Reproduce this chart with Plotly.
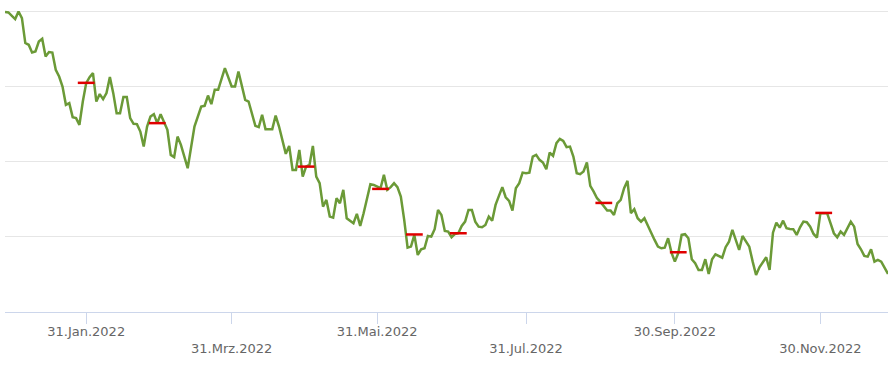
import plotly.graph_objects as go

# Trading-day closing values
dates = [
    "2021-12-28", "2021-12-29", "2021-12-31",
    "2022-01-03", "2022-01-04", "2022-01-05", "2022-01-06", "2022-01-07",
    "2022-01-10", "2022-01-11", "2022-01-12", "2022-01-13", "2022-01-14",
    "2022-01-17", "2022-01-18", "2022-01-19", "2022-01-20", "2022-01-21",
    "2022-01-24", "2022-01-25", "2022-01-26", "2022-01-27", "2022-01-28",
    "2022-01-31", "2022-02-01", "2022-02-02", "2022-02-03", "2022-02-04",
    "2022-02-07", "2022-02-08", "2022-02-09", "2022-02-10", "2022-02-11",
    "2022-02-14", "2022-02-15", "2022-02-16", "2022-02-17", "2022-02-18",
    "2022-02-21", "2022-02-22", "2022-02-23", "2022-02-24", "2022-02-25",
    "2022-02-28", "2022-03-01", "2022-03-02", "2022-03-04",
    "2022-03-07", "2022-03-08", "2022-03-09", "2022-03-10",
    "2022-03-14", "2022-03-16", "2022-03-18",
    "2022-03-21", "2022-03-22", "2022-03-23", "2022-03-24", "2022-03-25",
    "2022-03-29", "2022-03-31", "2022-04-01",
    "2022-04-04", "2022-04-06", "2022-04-07",
    "2022-04-11", "2022-04-12", "2022-04-13", "2022-04-14",
    "2022-04-18", "2022-04-19", "2022-04-20", "2022-04-22",
    "2022-04-25", "2022-04-26", "2022-04-27", "2022-04-28", "2022-04-29",
    "2022-05-02", "2022-05-03", "2022-05-04", "2022-05-05", "2022-05-06",
    "2022-05-09", "2022-05-10", "2022-05-11", "2022-05-12", "2022-05-13",
    "2022-05-16", "2022-05-17", "2022-05-18", "2022-05-19", "2022-05-20",
    "2022-05-23", "2022-05-24", "2022-05-25", "2022-05-27",
    "2022-05-30", "2022-06-01", "2022-06-02", "2022-06-03",
    "2022-06-06", "2022-06-07", "2022-06-08", "2022-06-09", "2022-06-10",
    "2022-06-13", "2022-06-14", "2022-06-15", "2022-06-16", "2022-06-17",
    "2022-06-20", "2022-06-21", "2022-06-22", "2022-06-23", "2022-06-24",
    "2022-06-27", "2022-06-28", "2022-06-29", "2022-06-30", "2022-07-01",
    "2022-07-04", "2022-07-05", "2022-07-06", "2022-07-07", "2022-07-08",
    "2022-07-11", "2022-07-12", "2022-07-13", "2022-07-14", "2022-07-15",
    "2022-07-18", "2022-07-19", "2022-07-20", "2022-07-21", "2022-07-22",
    "2022-07-25", "2022-07-26", "2022-07-27", "2022-07-28", "2022-07-29",
    "2022-08-01", "2022-08-02", "2022-08-03", "2022-08-04", "2022-08-05",
    "2022-08-08", "2022-08-09", "2022-08-10", "2022-08-11", "2022-08-12",
    "2022-08-15", "2022-08-16", "2022-08-17", "2022-08-18", "2022-08-19",
    "2022-08-22", "2022-08-23", "2022-08-24", "2022-08-25", "2022-08-26",
    "2022-08-29", "2022-08-30", "2022-08-31", "2022-09-01", "2022-09-02",
    "2022-09-05", "2022-09-06", "2022-09-07", "2022-09-08", "2022-09-09",
    "2022-09-12", "2022-09-13", "2022-09-14", "2022-09-15", "2022-09-16",
    "2022-09-19", "2022-09-20", "2022-09-21", "2022-09-22", "2022-09-23",
    "2022-09-26", "2022-09-27", "2022-09-28", "2022-09-29", "2022-09-30",
    "2022-10-03", "2022-10-04", "2022-10-05", "2022-10-06", "2022-10-07",
    "2022-10-10", "2022-10-11", "2022-10-12", "2022-10-13", "2022-10-14",
    "2022-10-17", "2022-10-18", "2022-10-19", "2022-10-20", "2022-10-21",
    "2022-10-24", "2022-10-25", "2022-10-26", "2022-10-27", "2022-10-28",
    "2022-10-31", "2022-11-01", "2022-11-02", "2022-11-03", "2022-11-04",
    "2022-11-07", "2022-11-08", "2022-11-09", "2022-11-10", "2022-11-11",
    "2022-11-14", "2022-11-15", "2022-11-16", "2022-11-17", "2022-11-18",
    "2022-11-21", "2022-11-22", "2022-11-23", "2022-11-24", "2022-11-25",
    "2022-11-28", "2022-11-29", "2022-11-30", "2022-12-01", "2022-12-02",
    "2022-12-05", "2022-12-06", "2022-12-07", "2022-12-08", "2022-12-09",
    "2022-12-12", "2022-12-13", "2022-12-14", "2022-12-15", "2022-12-16",
    "2022-12-19", "2022-12-20", "2022-12-21", "2022-12-22", "2022-12-23",
    "2022-12-26", "2022-12-27", "2022-12-28",
]

prices = [
    99.96, 99.91, 99.03,
    100.04, 99.16, 95.83, 95.60, 94.57,
    94.71, 96.04, 96.40, 94.04, 94.63,
    94.57, 92.27, 91.37, 90.04, 87.60,
    87.83, 85.96, 85.83, 84.93, 88.04,
    90.49, 91.29, 91.83, 88.04, 89.03,
    88.36, 89.16, 91.29, 89.16, 86.49,
    86.49, 88.63, 88.63, 85.83, 85.07,
    85.03, 84.04, 82.04, 84.71, 86.04,
    86.36, 85.16, 86.36, 84.27,
    80.93, 80.63, 83.37, 82.27,
    79.16, 84.71, 87.37,
    87.47, 88.84, 87.69, 89.60, 89.60,
    92.49, 90.04, 90.04,
    92.04, 88.27, 88.04,
    84.80, 84.63, 86.27, 84.36,
    84.36, 86.17, 84.71, 81.07,
    82.13, 78.93, 78.93, 81.60, 78.04,
    79.37, 79.60, 82.13, 78.04, 77.16,
    74.04, 74.93, 72.71, 72.57, 75.16,
    74.49, 76.27, 72.49, 72.17, 71.83,
    73.07, 71.47, 73.16, 77.03,
    76.93, 76.49, 78.27, 76.27,
    76.63, 77.16, 76.63, 75.37, 72.27,
    68.57, 68.71, 70.27, 67.60, 68.36,
    68.49, 70.13, 70.04, 71.03, 73.60,
    72.93, 70.80, 70.71, 69.96, 70.40,
    70.49, 71.47, 72.04, 73.60, 73.60,
    72.04, 71.37, 71.29, 71.60, 72.71,
    72.17, 74.27, 75.47, 76.63, 75.29,
    74.80, 73.51, 76.49, 77.16, 78.57,
    78.49, 78.57, 80.71, 80.93, 80.27,
    79.91, 79.03, 81.24, 80.80, 82.49,
    83.07, 82.80, 81.96, 82.04, 80.71,
    78.49, 78.36, 78.71, 79.91, 76.80,
    76.04, 75.16, 74.67, 74.13, 73.51,
    73.51, 72.93, 74.49, 74.93, 76.49,
    77.47, 73.16, 73.69, 72.49, 72.04,
    72.49, 71.60, 70.57, 69.60, 68.71,
    68.49, 68.57, 69.83, 67.91, 66.71,
    67.83, 70.27, 70.36, 69.83, 67.03,
    66.49, 65.60, 65.60, 67.03, 65.07,
    67.03, 67.69, 67.47, 67.24, 68.63,
    69.37, 70.93, 69.51, 68.27, 70.13,
    69.37, 68.71, 66.71, 64.93, 65.96,
    66.71, 67.29, 65.60, 70.57, 71.91,
    71.24, 72.17, 71.16, 71.07, 71.03,
    70.27, 71.29, 72.04, 71.96, 71.37,
    70.40, 69.91, 73.16, 73.16, 73.16,
    71.83, 70.49, 69.96, 70.71, 70.27,
    71.16, 72.04, 71.37, 69.07, 68.36,
    67.47, 67.37, 68.36, 66.71, 66.93,
    66.71, 65.83, 65.07,
]

# Event markers (red dashes)
event_dates = ["2022-01-31", "2022-03-01", "2022-05-02", "2022-06-01", "2022-06-15",
               "2022-07-04", "2022-09-01", "2022-10-03", "2022-12-01"]
event_values = [90.53, 85.16, 79.37, 76.40, 70.33, 70.49, 74.53, 67.96, 73.20]

# 31 Jul 2022 falls on a weekend (collapsed gap), so its tick sits at the end of Friday 29 Jul
tick_dates = ["2022-01-31", "2022-03-31", "2022-05-31", "2022-07-29 23:59:59",
              "2022-09-30", "2022-11-30"]
tick_labels = ["31.Jan.2022", "<br>31.Mrz.2022", "31.Mai.2022",
               "<br>31.Jul.2022", "30.Sep.2022", "<br>30.Nov.2022"]

fig = go.Figure()
fig.add_trace(go.Scatter(
    x=dates, y=prices, mode="lines",
    line=dict(color="#6b9a37", width=2.5),
    showlegend=False, hoverinfo="x+y",
))
fig.add_trace(go.Scatter(
    x=event_dates, y=event_values, mode="markers",
    marker=dict(symbol="line-ew", size=12, color="#e00000",
                line=dict(color="#e00000", width=2.5)),
    showlegend=False, cliponaxis=False,
))

fig.update_layout(
    width=888, height=365,
    margin=dict(l=5, r=0, t=8, b=53),
    plot_bgcolor="white", paper_bgcolor="white",
    font=dict(family="DejaVu Sans", size=13, color="#666666"),
    xaxis=dict(
        type="date",
        range=["2021-12-28", "2022-12-28"],
        rangebreaks=[dict(bounds=["sat", "mon"])],
        tickmode="array", tickvals=tick_dates, ticktext=tick_labels,
        ticks="outside", ticklen=11, tickcolor="#ccd6eb", tickwidth=1,
        ticklabelstandoff=-4,
        showline=True, linecolor="#ccd6eb", linewidth=1,
        showgrid=False, zeroline=False,
        tickfont=dict(family="DejaVu Sans", size=13, color="#666666"),
    ),
    yaxis=dict(
        range=[60, 100.5], tick0=60, dtick=10,
        showticklabels=False, ticks="",
        showgrid=True, gridcolor="#e6e6e6", gridwidth=1,
        zeroline=False, showline=False,
    ),
)

fig.write_html("out.html")
